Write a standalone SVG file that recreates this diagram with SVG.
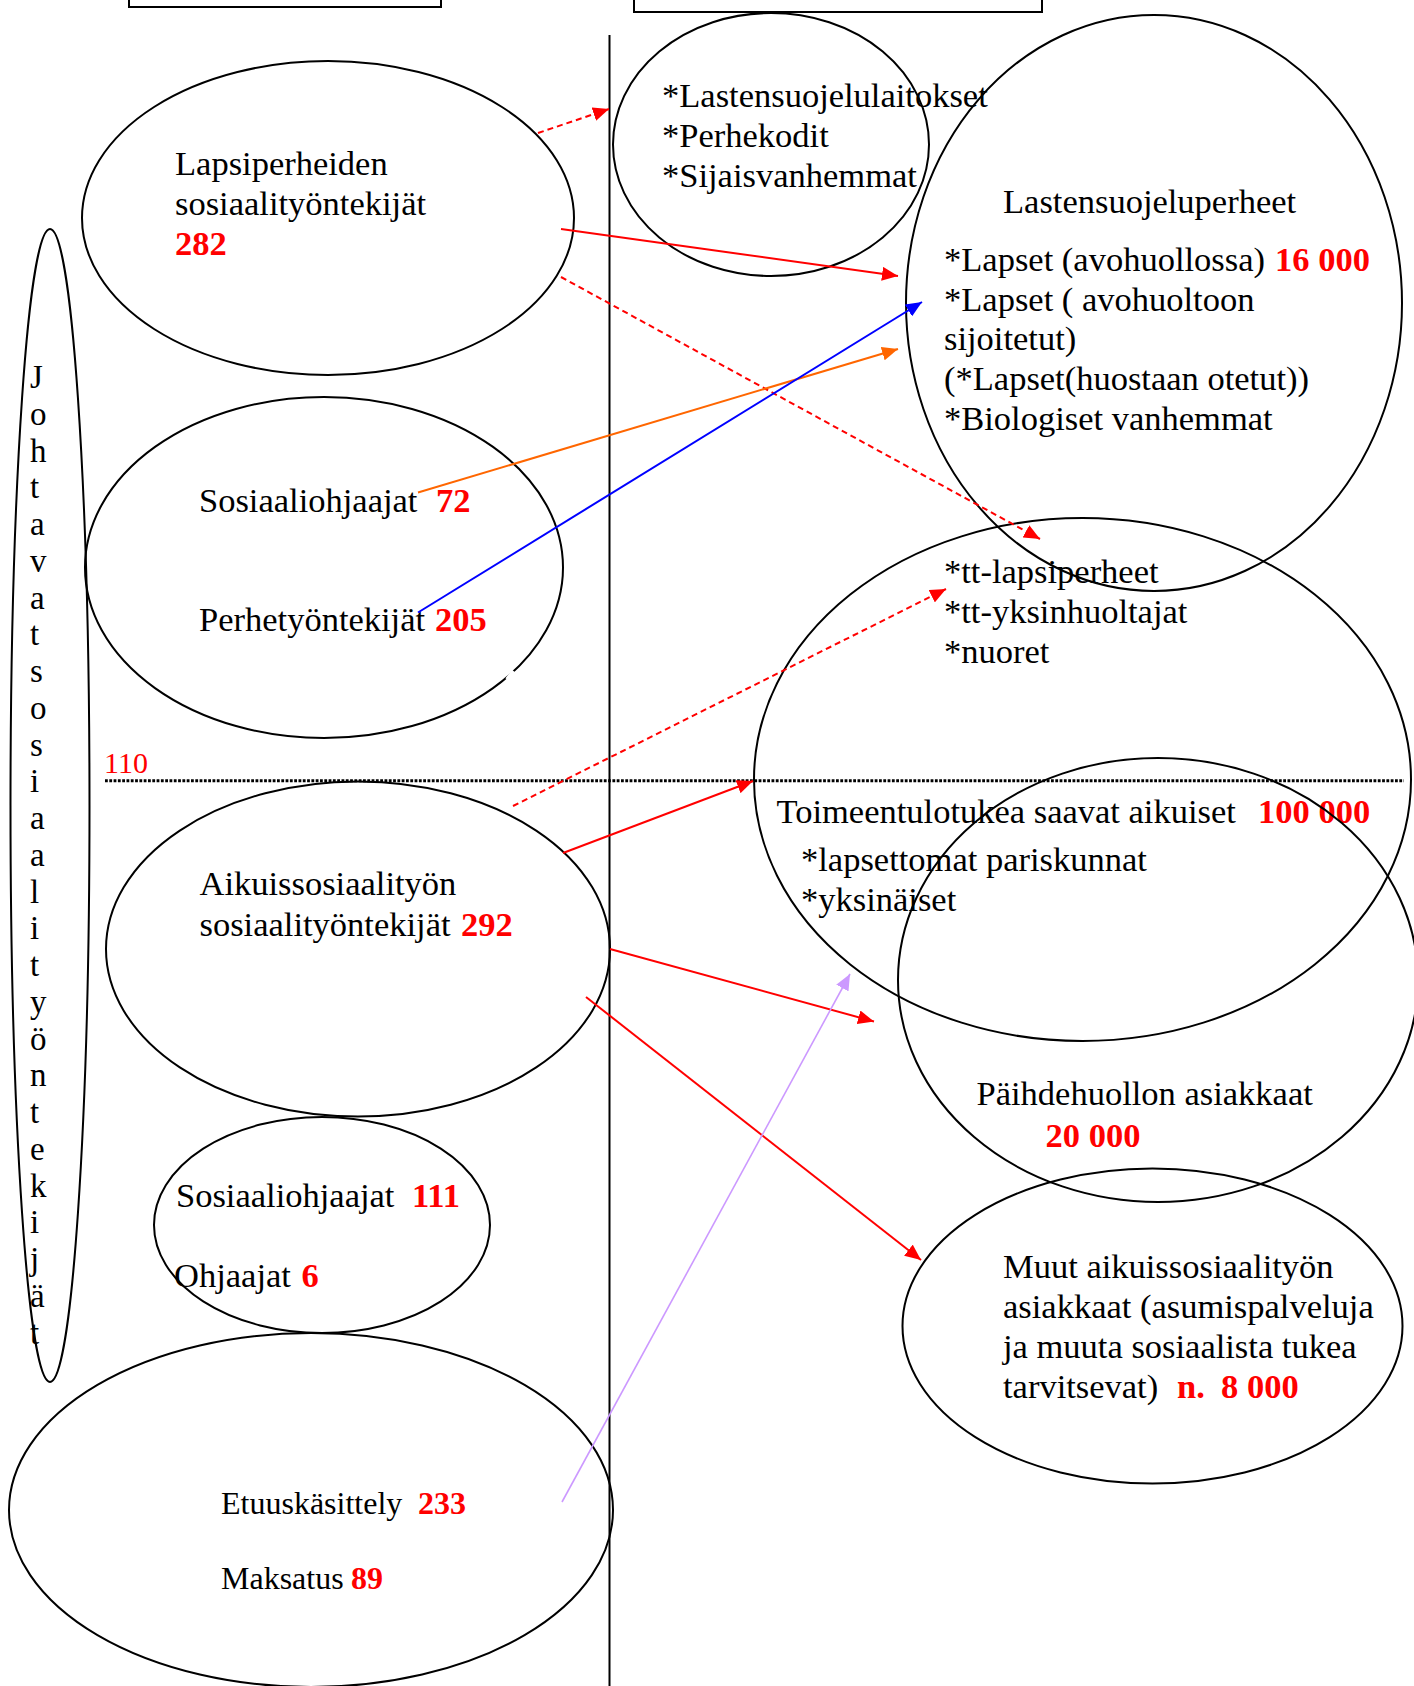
<svg xmlns="http://www.w3.org/2000/svg" width="1414" height="1686" viewBox="0 0 1414 1686">
<style>
  .sh { fill: none; stroke: #000; stroke-width: 2; }
  .t { font-family: "Liberation Serif", "Times New Roman", serif; font-size: 34.5px; fill: #000; }
  .n { font-family: "Liberation Serif", "Times New Roman", serif; font-size: 34.5px; font-weight: bold; fill: #ff0000; }
  .s { font-size: 32px; }
  .v { font-family: "Liberation Serif", "Times New Roman", serif; font-size: 33px; fill: #000; }
  .red { stroke: #ff0000; stroke-width: 2; fill: none; }
  .dash { stroke-dasharray: 6 4; }
</style>
<defs>
  <marker id="ar" markerUnits="userSpaceOnUse" markerWidth="17" markerHeight="14" refX="16" refY="7" orient="auto"><path d="M0,0 L16,7 L0,14 z" fill="#ff0000"/></marker>
  <marker id="ao" markerUnits="userSpaceOnUse" markerWidth="17" markerHeight="14" refX="16" refY="7" orient="auto"><path d="M0,0 L16,7 L0,14 z" fill="#ff6600"/></marker>
  <marker id="ab" markerUnits="userSpaceOnUse" markerWidth="17" markerHeight="14" refX="16" refY="7" orient="auto"><path d="M0,0 L16,7 L0,14 z" fill="#0000ff"/></marker>
  <marker id="al" markerUnits="userSpaceOnUse" markerWidth="17" markerHeight="14" refX="16" refY="7" orient="auto"><path d="M0,0 L16,7 L0,14 z" fill="#cc99ff"/></marker>
</defs>
<rect width="1414" height="1686" fill="#fff"/>

<g id="header-boxes">
  <rect class="sh" x="129" y="-20" width="312" height="27"/>
  <rect class="sh" x="634" y="-20" width="408" height="32"/>
</g>

<g id="divider">
  <line x1="609.5" y1="35" x2="609.5" y2="1686" stroke="#000" stroke-width="2"/>
  <line x1="105" y1="780.7" x2="1404" y2="780.7" stroke="#000" stroke-width="3" stroke-dasharray="2.8 1.5"/>
  <text x="104" y="772.5" font-family="Liberation Serif, serif" font-size="30" fill="#ff0000">110</text>
</g>

<g id="node-johtavat">
  <ellipse class="sh" cx="50" cy="805.5" rx="39.5" ry="576.5"/>
  <text class="v">
    <tspan x="30" y="388">J</tspan><tspan x="30" dy="36.75">o</tspan><tspan x="30" dy="36.75">h</tspan><tspan x="30" dy="36.75">t</tspan><tspan x="30" dy="36.75">a</tspan><tspan x="30" dy="36.75">v</tspan><tspan x="30" dy="36.75">a</tspan><tspan x="30" dy="36.75">t</tspan><tspan x="30" dy="36.75">s</tspan><tspan x="30" dy="36.75">o</tspan><tspan x="30" dy="36.75">s</tspan><tspan x="30" dy="36.75">i</tspan><tspan x="30" dy="36.75">a</tspan><tspan x="30" dy="36.75">a</tspan><tspan x="30" dy="36.75">l</tspan><tspan x="30" dy="36.75">i</tspan><tspan x="30" dy="36.75">t</tspan><tspan x="30" dy="36.75">y</tspan><tspan x="30" dy="36.75">ö</tspan><tspan x="30" dy="36.75">n</tspan><tspan x="30" dy="36.75">t</tspan><tspan x="30" dy="36.75">e</tspan><tspan x="30" dy="36.75">k</tspan><tspan x="30" dy="36.75">i</tspan><tspan x="30" dy="36.75">j</tspan><tspan x="30" dy="36.75">ä</tspan><tspan x="30" dy="36.75">t</tspan>
  </text>
</g>

<g id="node-lapsiperheiden">
  <ellipse class="sh" cx="328" cy="218" rx="246" ry="157"/>
  <text class="t" x="175" y="175">Lapsiperheiden</text>
  <text class="t" x="175" y="215">sosiaalityöntekijät</text>
  <text class="n" x="175" y="255">282</text>
</g>

<g id="node-sosiaaliohjaajat-perhe">
  <ellipse class="sh" cx="324" cy="567.5" rx="239" ry="170.5"/>
  <line x1="507" y1="679.5" x2="513.5" y2="671" stroke="#fff" stroke-width="4"/>
  <text class="t" x="199" y="512">Sosiaaliohjaajat</text>
  <text class="n" x="436" y="512">72</text>
  <text class="t" x="199" y="631">Perhetyöntekijät</text>
  <text class="n" x="435" y="631">205</text>
</g>

<g id="node-aikuis">
  <ellipse class="sh" cx="358" cy="949" rx="252" ry="167.5"/>
  <text class="t" x="199.5" y="895">Aikuissosiaalityön</text>
  <text class="t" x="199.5" y="936">sosiaalityöntekijät</text>
  <text class="n" x="461" y="936">292</text>
</g>

<g id="node-sosiaaliohjaajat-aikuis">
  <ellipse class="sh" cx="322" cy="1225" rx="168" ry="108"/>
  <text class="t" x="176" y="1207">Sosiaaliohjaajat</text>
  <text class="n" x="412" y="1207">111</text>
  <text class="t" x="174" y="1287">Ohjaajat</text>
  <text class="n" x="301.5" y="1287">6</text>
</g>

<g id="node-etuus">
  <ellipse class="sh" cx="311" cy="1510" rx="302" ry="177"/>
  <text class="t s" x="221" y="1514">Etuuskäsittely</text>
  <text class="n s" x="418" y="1514">233</text>
  <text class="t s" x="221" y="1589">Maksatus</text>
  <text class="n s" x="351" y="1589">89</text>
</g>

<g id="node-laitokset">
  <ellipse class="sh" cx="771" cy="144.5" rx="158" ry="131.5"/>
  <text class="t" x="662" y="107">*Lastensuojelulaitokset</text>
  <text class="t" x="662" y="147">*Perhekodit</text>
  <text class="t" x="662" y="187">*Sijaisvanhemmat</text>
</g>

<g id="node-lastensuojeluperheet">
  <ellipse class="sh" cx="1154" cy="303" rx="248" ry="288"/>
  <text class="t" x="1003" y="213">Lastensuojeluperheet</text>
  <text class="t" x="944" y="271">*Lapset (avohuollossa)</text>
  <text class="n" x="1275" y="271">16 000</text>
  <text class="t" x="944" y="311">*Lapset ( avohuoltoon</text>
  <text class="t" x="944" y="350">sijoitetut)</text>
  <text class="t" x="944" y="390">(*Lapset(huostaan otetut))</text>
  <text class="t" x="944" y="430">*Biologiset vanhemmat</text>
</g>

<g id="node-toimeentulotuki">
  <ellipse class="sh" cx="1082.5" cy="779.5" rx="328.5" ry="261.5"/>
  <text class="t" x="944" y="583">*tt-lapsiperheet</text>
  <text class="t" x="944" y="623">*tt-yksinhuoltajat</text>
  <text class="t" x="944" y="663">*nuoret</text>
  <text class="t" x="776.5" y="823">Toimeentulotukea saavat aikuiset</text>
  <text class="n" x="1258" y="823">100 000</text>
  <text class="t" x="801" y="871">*lapsettomat pariskunnat</text>
  <text class="t" x="801" y="911">*yksinäiset</text>
</g>

<g id="node-paihdehuolto">
  <ellipse class="sh" cx="1158" cy="980" rx="260" ry="222"/>
  <text class="t" x="976.5" y="1105">Päihdehuollon asiakkaat</text>
  <text class="n" x="1045.5" y="1147">20 000</text>
</g>

<g id="node-muut">
  <ellipse class="sh" cx="1152.5" cy="1326" rx="250" ry="157.5"/>
  <text class="t" x="1003" y="1278">Muut aikuissosiaalityön</text>
  <text class="t" x="1003" y="1318">asiakkaat (asumispalveluja</text>
  <text class="t" x="1003" y="1358">ja muuta sosiaalista tukea</text>
  <text class="t" x="1003" y="1398">tarvitsevat)</text>
  <text class="n" x="1177" y="1398">n.</text>
  <text class="n" x="1221" y="1398">8 000</text>
</g>

<g id="connectors">
  <line class="red dash" x1="538" y1="133" x2="609" y2="109" marker-end="url(#ar)"/>
  <line class="red" x1="561" y1="229" x2="898" y2="276" marker-end="url(#ar)"/>
  <line class="red dash" x1="561" y1="277" x2="1040" y2="539" marker-end="url(#ar)"/>
  <line x1="418" y1="492.5" x2="898" y2="349" stroke="#ff6600" stroke-width="2" marker-end="url(#ao)"/>
  <line x1="418" y1="612.5" x2="922" y2="302" stroke="#0000ff" stroke-width="2" marker-end="url(#ab)"/>
  <line class="red" x1="563" y1="853" x2="753" y2="781" marker-end="url(#ar)"/>
  <line class="red" x1="610" y1="949" x2="874" y2="1021.5" marker-end="url(#ar)"/>
  <line class="red" x1="586" y1="997" x2="921" y2="1260" marker-end="url(#ar)"/>
  <line class="red dash" x1="513" y1="806" x2="946" y2="589" marker-end="url(#ar)"/>
  <line x1="562" y1="1502" x2="850" y2="974" stroke="#cc99ff" stroke-width="1.6" marker-end="url(#al)"/>
</g>
</svg>
